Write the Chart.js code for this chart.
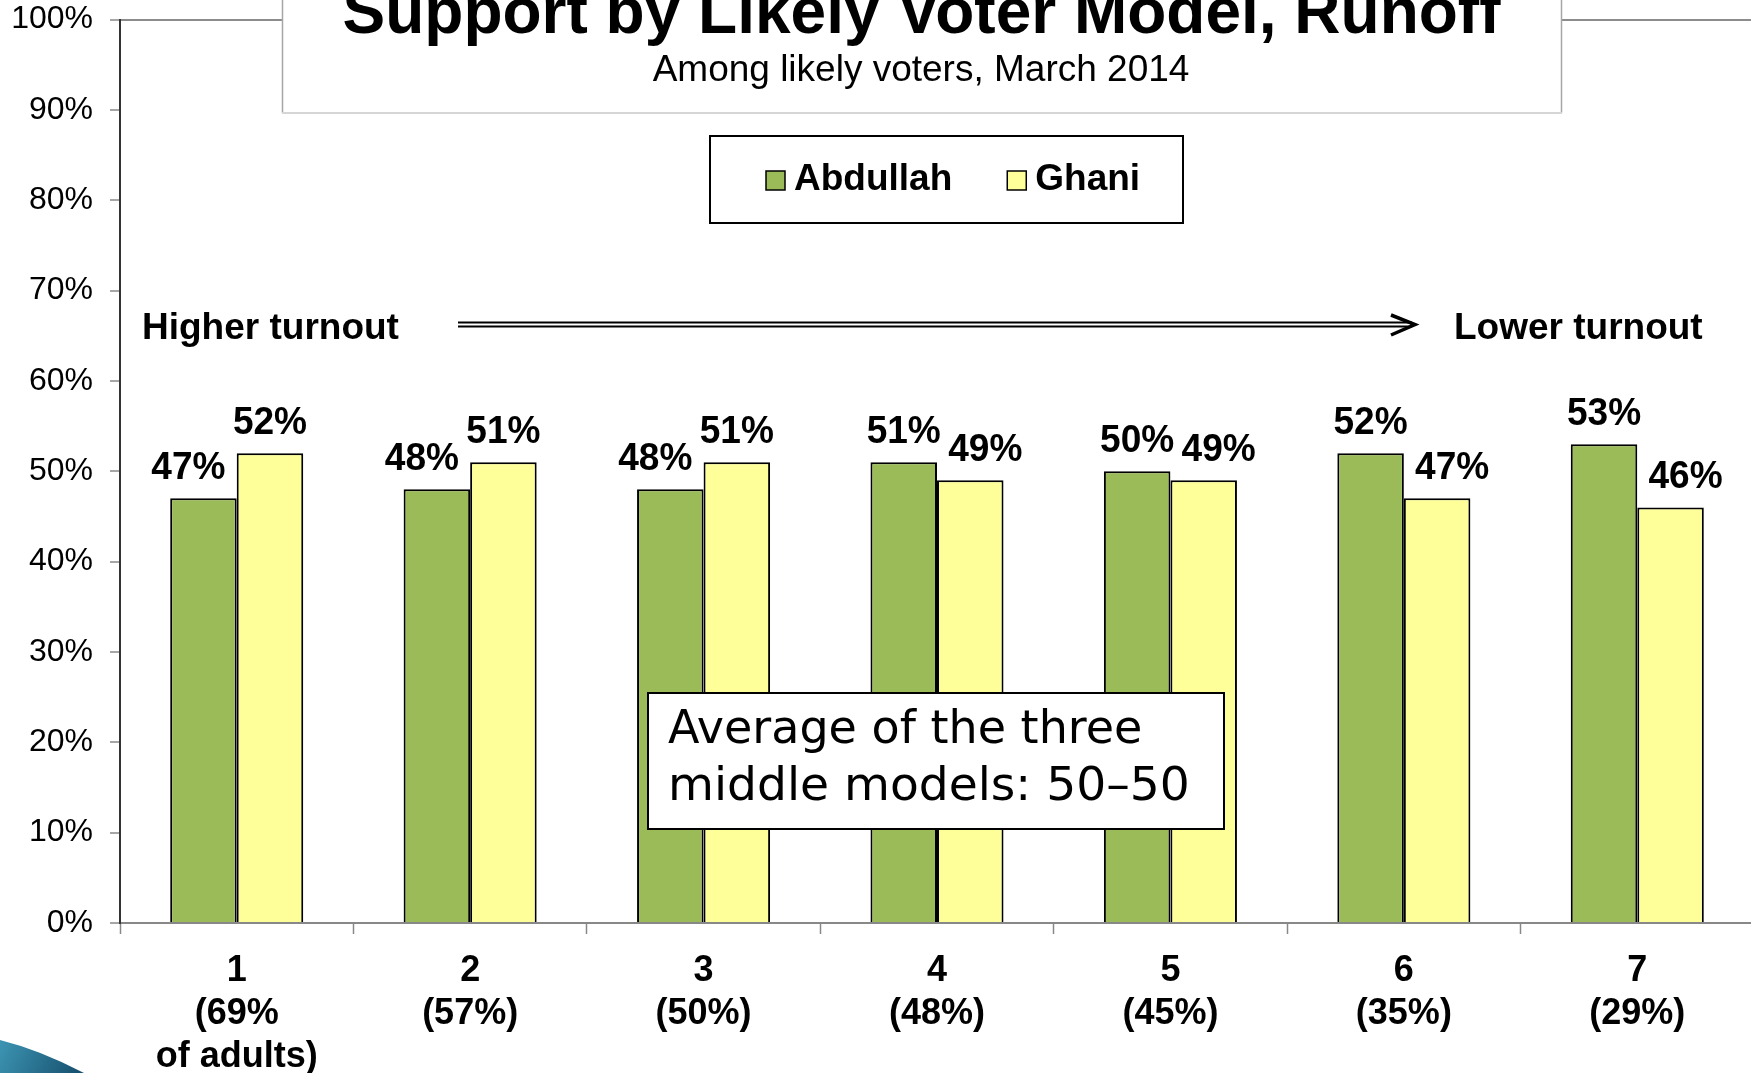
<!DOCTYPE html>
<html><head><meta charset="utf-8">
<script src="https://cdn.jsdelivr.net/npm/chart.js@4.4.1/dist/chart.umd.min.js"></script>
<style>
html,body{margin:0;padding:0;overflow:hidden;background:#fff;width:1751px;height:1073px}
#wrap{position:absolute;left:0;top:0;width:1755px;height:1073px}
</style>
</head><body><div id="wrap"><canvas id="c"></canvas></div>
<script>
// ---- data ----
const modelNumbers = ['1','2','3','4','5','6','7'];
const turnoutShares = ['(69%','(57%)','(50%)','(48%)','(45%)','(35%)','(29%)'];
const extraLines = ['of adults)','','','','','',''];
const seriesNames = ['Abdullah','Ghani'];
const abdullah = [47,48,48,51,50,52,53];
const ghani = [52,51,51,49,49,47,46];
const yTickValues = [0,10,20,30,40,50,60,70,80,90,100];
const titleText = 'Support by Likely Voter Model, Runoff';
const subtitleText = 'Among likely voters, March 2014';
const higherText = 'Higher turnout';
const lowerText = 'Lower turnout';
const noteLines = ['Average of the three','middle models: 50\u201350'];

const categories = modelNumbers.map((n,i)=> extraLines[i] ? [n, turnoutShares[i], extraLines[i]] : [n, turnoutShares[i]]);
const SANS = '"Liberation Sans", Arial, sans-serif';

const deco = {
  id:'deco',
  afterDatasetsDraw(chart){
    const ctx = chart.ctx;
    ctx.save();
    ctx.font = 'bold 39px ' + SANS;
    ctx.fillStyle = '#000';
    ctx.textAlign = 'center';
    ctx.textBaseline = 'alphabetic';
    const ds = chart.data.datasets;
    ds.forEach((d,di)=>{
      const meta = chart.getDatasetMeta(di);
      meta.data.forEach((bar,i)=>{
        const v = d.data[i];
        const other = ds[1-di].data[i];
        let dx = 0;
        if (v < other) dx = di === 0 ? -15 : 15;
        ctx.save();
        ctx.translate(bar.x + dx, bar.y - 19);
        ctx.scale(0.95, 1);
        ctx.fillText(v + '%', 0, 0);
        ctx.restore();
      });
    });
    ctx.restore();
  },
  afterDraw(chart){
    const ctx = chart.ctx;
    ctx.save();
    // title box
    ctx.fillStyle = '#fff';
    ctx.fillRect(282, -2, 1279, 115);
    ctx.strokeStyle = '#a6a6a6';
    ctx.lineWidth = 1.5;
    ctx.beginPath();
    ctx.moveTo(282.5,-2); ctx.lineTo(282.5,113);
    ctx.moveTo(1561.5,-2); ctx.lineTo(1561.5,113);
    ctx.stroke();
    ctx.strokeStyle = '#d6d6d6';
    ctx.lineWidth = 2;
    ctx.beginPath(); ctx.moveTo(282,113); ctx.lineTo(1562,113); ctx.stroke();
    ctx.fillStyle = '#000';
    ctx.textAlign = 'center';
    ctx.textBaseline = 'alphabetic';
    ctx.font = 'bold 64px ' + SANS;
    ctx.fillText(titleText, 921.5, 33);
    ctx.font = '37px ' + SANS;
    ctx.fillText(subtitleText, 921, 81);

    // legend
    ctx.fillStyle = '#fff';
    ctx.fillRect(710, 136, 473, 87);
    ctx.strokeStyle = '#000';
    ctx.lineWidth = 2;
    ctx.strokeRect(710, 136, 473, 87);
    ctx.font = 'bold 37px ' + SANS;
    ctx.textAlign = 'left';
    ctx.textBaseline = 'middle';
    let lx = 766;
    chart.data.datasets.forEach((d,di)=>{
      ctx.fillStyle = d.backgroundColor;
      ctx.fillRect(lx, 171, 19, 19);
      ctx.strokeStyle = '#000';
      ctx.lineWidth = 1.5;
      ctx.strokeRect(lx, 171, 19, 19);
      ctx.fillStyle = '#000';
      ctx.fillText(d.label, lx + 28, 180);
      lx += 28 + ctx.measureText(d.label).width + 55;
    });

    // turnout labels & arrow
    ctx.textBaseline = 'alphabetic';
    ctx.font = 'bold 37px ' + SANS;
    ctx.textAlign = 'left';
    ctx.fillText(higherText, 142, 339);
    ctx.fillText(lowerText, 1454, 339);
    ctx.strokeStyle = '#000';
    ctx.lineWidth = 2.2;
    ctx.beginPath();
    ctx.moveTo(458, 322.5); ctx.lineTo(1412, 322.5);
    ctx.moveTo(458, 326.5); ctx.lineTo(1412, 326.5);
    ctx.stroke();
    ctx.lineWidth = 3.5;
    ctx.beginPath();
    ctx.moveTo(1391, 315); ctx.lineTo(1415, 324.5); ctx.lineTo(1391, 335);
    ctx.stroke();

    // note box
    ctx.fillStyle = '#fff';
    ctx.fillRect(648, 693, 576, 136);
    ctx.strokeStyle = '#000';
    ctx.lineWidth = 2;
    ctx.strokeRect(648, 693, 576, 136);
    ctx.fillStyle = '#000';
    ctx.font = '46px "DejaVu Sans", sans-serif';
    ctx.textAlign = 'left';
    ctx.textBaseline = 'middle';
    ctx.fillText(noteLines[0], 668, 731);
    ctx.save();
    ctx.translate(668, 788);
    ctx.scale(1.025, 1);
    ctx.fillText(noteLines[1], 0, 0);
    ctx.restore();

    // corner swoosh
    const g = ctx.createLinearGradient(0, 1035, 80, 1073);
    g.addColorStop(0, '#3d97b5');
    g.addColorStop(1, '#17506e');
    ctx.fillStyle = g;
    ctx.beginPath();
    ctx.moveTo(0, 1040);
    ctx.quadraticCurveTo(40, 1050, 84, 1073);
    ctx.lineTo(0, 1073);
    ctx.closePath();
    ctx.fill();
    ctx.restore();
  }
};

new Chart(document.getElementById('c'), {
  type:'bar',
  data:{
    labels: categories,
    datasets:[
      {label: seriesNames[0], data: abdullah, backgroundColor:'#9BBB59', borderColor:'#000', borderWidth:2, categoryPercentage:0.57, barPercentage:1.0},
      {label: seriesNames[1], data: ghani, backgroundColor:'#FFFF99', borderColor:'#000', borderWidth:2, categoryPercentage:0.57, barPercentage:1.0}
    ]
  },
  options:{
    responsive:true,
    maintainAspectRatio:false,
    animation:false,
    layout:{padding:{top:0, left:0, right:1, bottom:0}},
    plugins:{legend:{display:false}, title:{display:false}, tooltip:{enabled:false}},
    scales:{
      x:{
        offset:true,
        grid:{offset:true, drawOnChartArea:false, drawTicks:true, tickLength:11, tickColor:'#888', tickWidth:1.5},
        border:{display:true, color:'#888', width:2},
        ticks:{color:'#000', font:{family:SANS, size:36, weight:'bold', lineHeight:1.2}, padding:15, maxRotation:0, autoSkip:false},
        afterFit(s){ s.height = 150; }
      },
      y:{
        min:0, max:100,
        afterBuildTicks(s){ s.ticks = yTickValues.map(v=>({value:v})); },
        grid:{drawOnChartArea:true, color:(c)=> (c.tick && c.tick.value===100) ? '#8c8c8c' : 'rgba(0,0,0,0)', lineWidth:2, tickLength:10, tickColor:'#888', tickWidth:1.5},
        border:{display:true, color:'#333', width:2},
        ticks:{color:'#000', font:{family:SANS, size:32}, padding:17, callback:(v)=> v + '%'},
        afterFit(s){ s.width = 120; s.paddingTop = 19.5; s.paddingBottom = 0; }
      }
    }
  },
  plugins:[deco]
});
</script>
</body></html>
